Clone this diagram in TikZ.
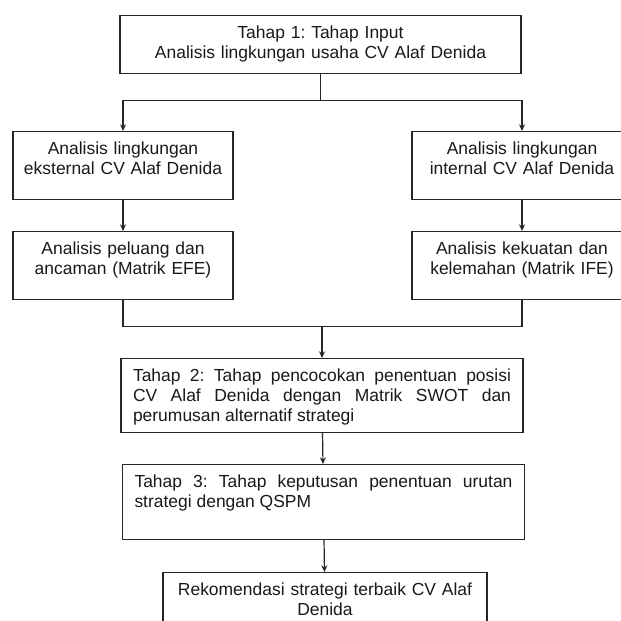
\documentclass[tikz,border=0pt]{standalone}
\usepackage{fontspec}
\setmainfont{Liberation Sans}
\usepackage{tikz}
\usetikzlibrary{positioning, arrows.meta}
\frenchspacing

\tikzset{
    stagebox/.style={draw=black!85, line width=0.9pt, anchor=north, inner xsep=0pt, inner ysep=0pt,
        text height=17pt, text=black!90, font=\fontsize{13.1pt}{15pt}\selectfont},
    sidebox/.style={stagebox, text width=165pt, align=center, text depth=34pt},
    widebox/.style={stagebox, inner xsep=9pt, text width=283.5pt, align=justify},
    link/.style={draw=black!85, line width=0.9pt},
    arr/.style={link, -{Stealth[length=5pt, width=4.5pt]}}
}

\begin{document}
\begin{tikzpicture}[x=0.75pt, y=-0.75pt]
    \useasboundingbox (0,0) rectangle (621,621);
    \clip (0,0) rectangle (621,621);
    % Tahap 1
    \node[stagebox, text width=300.75pt, align=center, text depth=26.5pt] (input) at (320.5,15)
        {Tahap 1: Tahap Input\\Analisis lingkungan usaha CV Alaf Denida};
    % eksternal / internal
    \node[sidebox] (eksternal) at (123,131) {Analisis lingkungan\\eksternal CV Alaf Denida};
    \node[sidebox] (internal) at (522,131) {Analisis lingkungan\\internal CV Alaf Denida};
    \node[sidebox] (efe) at (123,231) {Analisis peluang dan\\ancaman (Matrik EFE)};
    \node[sidebox] (ife) at (522,231) {Analisis kekuatan dan\\kelemahan (Matrik IFE)};
    % Tahap 2 and 3
    \node[widebox, text depth=38.5pt] (swot) at (322,358)
        {Tahap 2: Tahap pencocokan penentuan posisi\linebreak CV Alaf Denida dengan Matrik SWOT dan\linebreak perumusan alternatif strategi};
    \node[widebox, text depth=39.25pt] (qspm) at (323.5,464)
        {Tahap 3: Tahap keputusan penentuan urutan\linebreak strategi dengan QSPM};
    % Rekomendasi
    \node[stagebox, text width=243pt, align=center, text depth=39.25pt] (rekomendasi) at (325,572)
        {Rekomendasi strategi terbaik CV Alaf\\Denida};

    % connectors
    \draw[link] (input.south) -- ++(0,26) coordinate (split);
    \draw[arr] (split) -| (eksternal.north);
    \draw[arr] (split) -| (internal.north);
    \draw[arr] (eksternal) -- (efe);
    \draw[arr] (internal) -- (ife);
    \draw[link] (efe.south) -- ++(0,26) coordinate (join) -| (ife.south);
    \draw[arr] (join -| swot.north) -- (swot.north);
    \draw[arr] (swot) -- (qspm);
    \draw[arr] (qspm) -- (rekomendasi);
\end{tikzpicture}
\end{document}
